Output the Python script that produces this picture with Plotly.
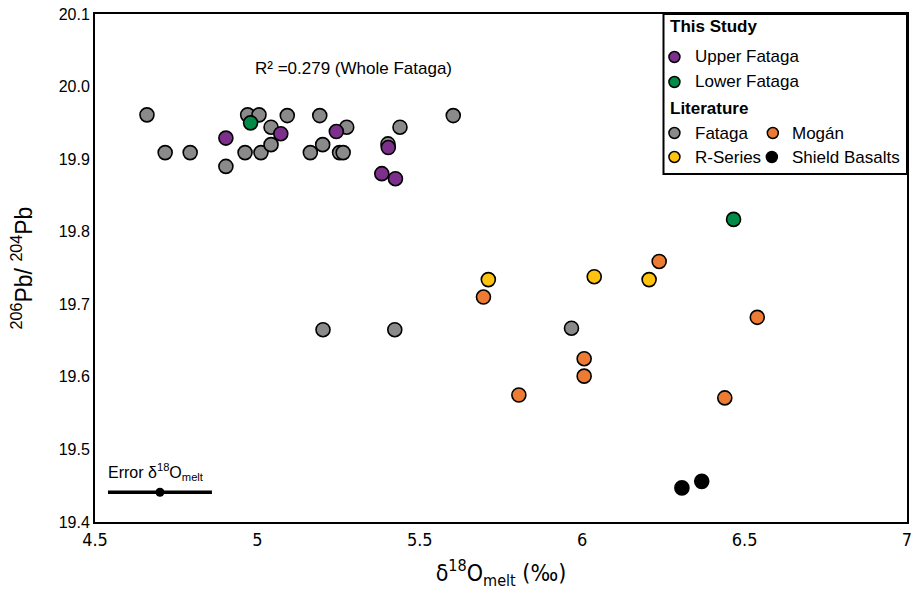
import plotly.graph_objects as go

# ---------------- data ----------------
fataga_x = [4.66, 4.716, 4.793, 4.903, 4.970, 5.005, 4.962, 5.011, 5.042, 5.042, 5.092,
            5.163, 5.192, 5.201, 5.253, 5.264, 5.275, 5.402, 5.439, 5.603,
            5.202, 5.423, 5.967]
fataga_y = [19.961, 19.909, 19.909, 19.890, 19.961, 19.961, 19.909, 19.909, 19.944, 19.920, 19.960,
            19.909, 19.960, 19.920, 19.909, 19.909, 19.944, 19.921, 19.944, 19.960,
            19.665, 19.665, 19.667]

upper_x = [4.903, 5.072, 5.243, 5.403, 5.383, 5.425]
upper_y = [19.929, 19.935, 19.938, 19.916, 19.880, 19.873]

lower_x = [4.979, 6.466]
lower_y = [19.950, 19.817]

mogan_x = [6.237, 5.696, 6.539, 6.006, 6.006, 5.805, 6.439]
mogan_y = [19.759, 19.710, 19.682, 19.625, 19.601, 19.575, 19.571]

rseries_x = [5.711, 6.037, 6.206]
rseries_y = [19.734, 19.738, 19.734]

shield_x = [6.307, 6.368]
shield_y = [19.447, 19.456]

error_center = [4.70]
error_y = [19.441]
error_half = [0.16]

x_ticks = [4.5, 5, 5.5, 6, 6.5, 7]
x_tick_text = ["4.5", "5", "5.5", "6", "6.5", "7"]
y_ticks = [19.4, 19.5, 19.6, 19.7, 19.8, 19.9, 20.0, 20.1]
y_tick_text = ["19.4", "19.5", "19.6", "19.7", "19.8", "19.9", "20.0", "20.1"]

# ---------------- styles ----------------
GRAY = "#8a8a8a"
PURPLE = "#7d2f8c"
GREEN = "#008b47"
ORANGE = "#ec7c33"
YELLOW = "#ffc20e"
BLACK = "#000000"
SANS = "Liberation Sans, Arial, Helvetica, sans-serif"
NARROW = "Liberation Sans Narrow, DejaVu Sans Condensed, Liberation Sans, Arial, sans-serif"

MS = 14


def mk(color):
    return dict(size=MS, color=color, line=dict(color="black", width=1.6))


fig = go.Figure()
fig.add_trace(go.Scatter(x=fataga_x, y=fataga_y, mode="markers", marker=mk(GRAY), name="Fataga"))
fig.add_trace(go.Scatter(x=mogan_x, y=mogan_y, mode="markers", marker=mk(ORANGE), name="Mogán"))
fig.add_trace(go.Scatter(x=rseries_x, y=rseries_y, mode="markers", marker=mk(YELLOW), name="R-Series"))
fig.add_trace(go.Scatter(x=shield_x, y=shield_y, mode="markers", marker=mk(BLACK), name="Shield Basalts"))
fig.add_trace(go.Scatter(x=upper_x, y=upper_y, mode="markers", marker=mk(PURPLE), name="Upper Fataga"))
fig.add_trace(go.Scatter(x=lower_x, y=lower_y, mode="markers", marker=mk(GREEN), name="Lower Fataga"))

# error bar
fig.add_trace(go.Scatter(
    x=error_center, y=error_y, mode="markers",
    marker=dict(size=9, color="black"),
    error_x=dict(type="data", array=error_half, symmetric=True, thickness=3.5, width=0, color="black"),
    name="Error"))

fig.add_annotation(x=4.535, y=19.469, xref="x", yref="y", xanchor="left", yanchor="middle",
                   text="Error δ<sup>18</sup>O<sub>melt</sub>", showarrow=False,
                   font=dict(family=SANS, size=16, color="black"))

fig.add_annotation(x=5.297, y=20.025, xref="x", yref="y", xanchor="center", yanchor="middle",
                   text="R² =0.279 (Whole Fataga)", showarrow=False,
                   font=dict(family=SANS, size=17, color="black"))

# ---------------- manual legend ----------------
L, R, T, B = 95, 912, 14, 522
W, H = R - L, B - T


def px(xp):
    return (xp - L) / W


def py(yp):
    return (B - yp) / H


fig.add_shape(type="rect", xref="paper", yref="paper",
              x0=px(667), x1=px(912), y0=py(174), y1=py(14),
              line=dict(color="black", width=2), fillcolor="white", layer="above")

legend_items = [
    (678, 57, PURPLE, "Upper Fataga", 697),
    (678, 82, GREEN, "Lower Fataga", 697),
    (678, 133, GRAY, "Fataga", 697),
    (777, 133, ORANGE, "Mogán", 794),
    (678, 157, YELLOW, "R-Series", 697),
    (776, 157, BLACK, "Shield Basalts", 794),
]
for cx, cy, col, label, tx in legend_items:
    fig.add_shape(type="circle", xref="paper", yref="paper",
                  xsizemode="pixel", ysizemode="pixel",
                  xanchor=px(cx), yanchor=py(cy),
                  x0=-5.5, x1=5.5, y0=-5.5, y1=5.5,
                  fillcolor=col, line=dict(color="black", width=1.5), layer="above")
    fig.add_annotation(x=px(tx), y=py(cy), xref="paper", yref="paper",
                       xanchor="left", yanchor="middle", text=label, showarrow=False,
                       font=dict(family=SANS, size=17, color="black"))

for title, ty in [("This Study", 27), ("Literature", 108)]:
    fig.add_annotation(x=px(672), y=py(ty), xref="paper", yref="paper",
                       xanchor="left", yanchor="middle", text="<b>" + title + "</b>", showarrow=False,
                       font=dict(family=SANS, size=17, color="black"))

# ---------------- layout ----------------
fig.update_layout(
    width=915, height=596,
    margin=dict(l=L, r=915 - R, t=T, b=596 - B, pad=0),
    paper_bgcolor="white", plot_bgcolor="white",
    showlegend=False,
    xaxis=dict(range=[4.5, 7], tickvals=x_ticks, ticktext=x_tick_text,
               showgrid=False, zeroline=False, showline=True, linecolor="black", linewidth=2,
               mirror=True, ticks="", ticklen=0, ticklabeloverflow="allow",
               tickfont=dict(family=NARROW, size=18, color="black"),
               title=dict(text="δ<sup>18</sup>O<sub>melt</sub> (‰)", standoff=16,
                          font=dict(family=NARROW, size=23, color="black"))),
    yaxis=dict(range=[19.4, 20.1], tickvals=y_ticks, ticktext=y_tick_text,
               showgrid=False, zeroline=False, showline=True, linecolor="black", linewidth=2,
               mirror=True, ticks="", ticklen=0, ticklabeloverflow="allow",
               tickfont=dict(family=SANS, size=16, color="black"),
               title=dict(text="<sup>206</sup>Pb/ <sup>204</sup>Pb", standoff=20,
                          font=dict(family=SANS, size=23, color="black"))),
)

fig.write_html("out.html")
